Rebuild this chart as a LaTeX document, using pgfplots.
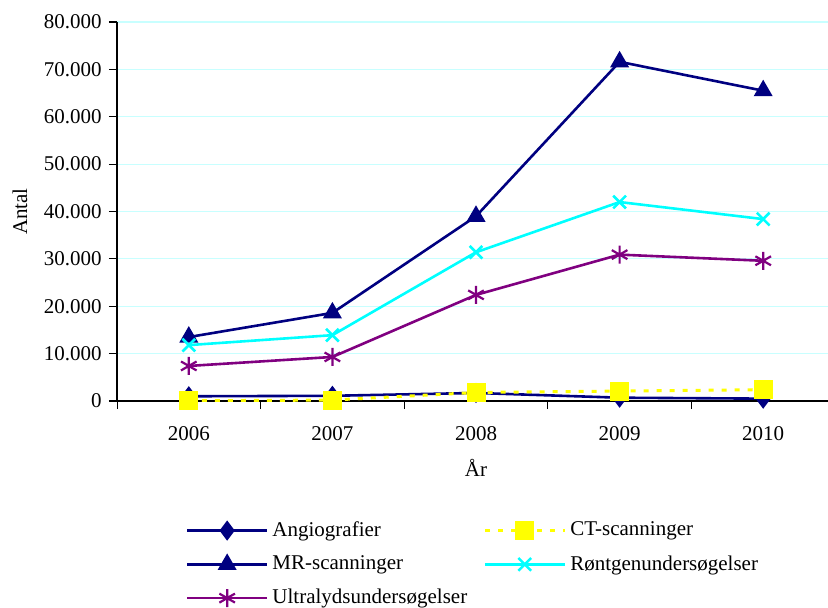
\documentclass[border=0pt]{standalone}
\usepackage{pgfplots}
\pgfplotsset{compat=1.18}
\usepackage{fontspec}
\setmainfont{Liberation Serif}
\definecolor{navy}{RGB}{0,0,128}
\definecolor{cyn}{RGB}{0,255,255}
\definecolor{purp}{RGB}{128,0,128}
\definecolor{yel}{RGB}{255,255,0}
\definecolor{gridc}{RGB}{200,255,255}
\begin{document}
\fontsize{10.5}{12.6}\selectfont
\begin{tikzpicture}
\begin{axis}[
  scale only axis,
  width=359pt, height=189.5pt,
  xmin=-0.5, xmax=4.5,
  ymin=0, ymax=80000,
  scaled y ticks=false,
  axis x line*=bottom, axis y line*=left,
  xtick={0,1,2,3,4},
  xticklabels={2006,2007,2008,2009,2010},
  minor xtick={-0.5,0.5,1.5,2.5,3.5,4.5},
  major x tick style={draw=none},
  minor x tick style={black, thin},
  ytick={0,10000,...,80000},
  yticklabels={0,10.000,20.000,30.000,40.000,50.000,60.000,70.000,80.000},
  tick align=outside,
  major tick length=4pt, minor tick length=4pt,
  ymajorgrids,
  major grid style={gridc, line width=0.6pt},
  axis line style={black, line width=0.6pt},
  ytick style={black, line width=0.6pt},
  xticklabel style={yshift=-5pt},
  tick label style={font=\fontsize{10.5}{12.6}\selectfont},
  label style={font=\fontsize{10.5}{12.6}\selectfont},
  xlabel={År},
  ylabel={Antal},
  ylabel style={yshift=1pt},
  xlabel style={yshift=-2pt},
  legend columns=2,
  legend cell align=left,
  legend style={at={(0.087,-0.296)}, anchor=north west, draw=none, fill=none,
    font=\fontsize{10.5}{12.6}\selectfont, row sep=4pt,
    /tikz/every even column/.append style={column sep=6pt}},
  legend image code/.code={\draw[mark repeat=2,mark phase=2] plot coordinates {(0pt,0pt) (20pt,0pt) (40pt,0pt)};},
  every axis plot/.append style={line width=1.3pt},
]
\addplot[navy, mark=diamond*, mark size=4pt, mark options={solid, fill=navy}] coordinates {(0,1000) (1,1100) (2,1700) (3,700) (4,500)};
\addlegendentry{Angiografier}
\addplot[yel, line width=1.5pt, dash pattern=on 2.5pt off 4pt, mark=square*, mark size=4pt, mark options={solid, fill=yel}] coordinates {(0,50) (1,200) (2,1800) (3,2100) (4,2400)};
\addlegendentry{CT-scanninger}
\addplot[navy, mark=triangle*, mark size=4.2pt, mark options={solid, fill=navy}] coordinates {(0,13500) (1,18600) (2,39000) (3,71600) (4,65500)};
\addlegendentry{MR-scanninger}
\addplot[cyn, mark=x, mark size=4.5pt, mark options={solid, line width=1.3pt}] coordinates {(0,11800) (1,13900) (2,31400) (3,42000) (4,38400)};
\addlegendentry{Røntgenundersøgelser}
\addplot[purp, mark=asterisk, mark size=4.5pt, mark options={solid, line width=1.1pt}] coordinates {(0,7400) (1,9300) (2,22400) (3,30900) (4,29600)};
\addlegendentry{Ultralydsundersøgelser}
\end{axis}
\pgfresetboundingbox
\path[use as bounding box] (-58.5pt,-103pt) rectangle (355.5pt,200.5pt);
\end{tikzpicture}
\end{document}
